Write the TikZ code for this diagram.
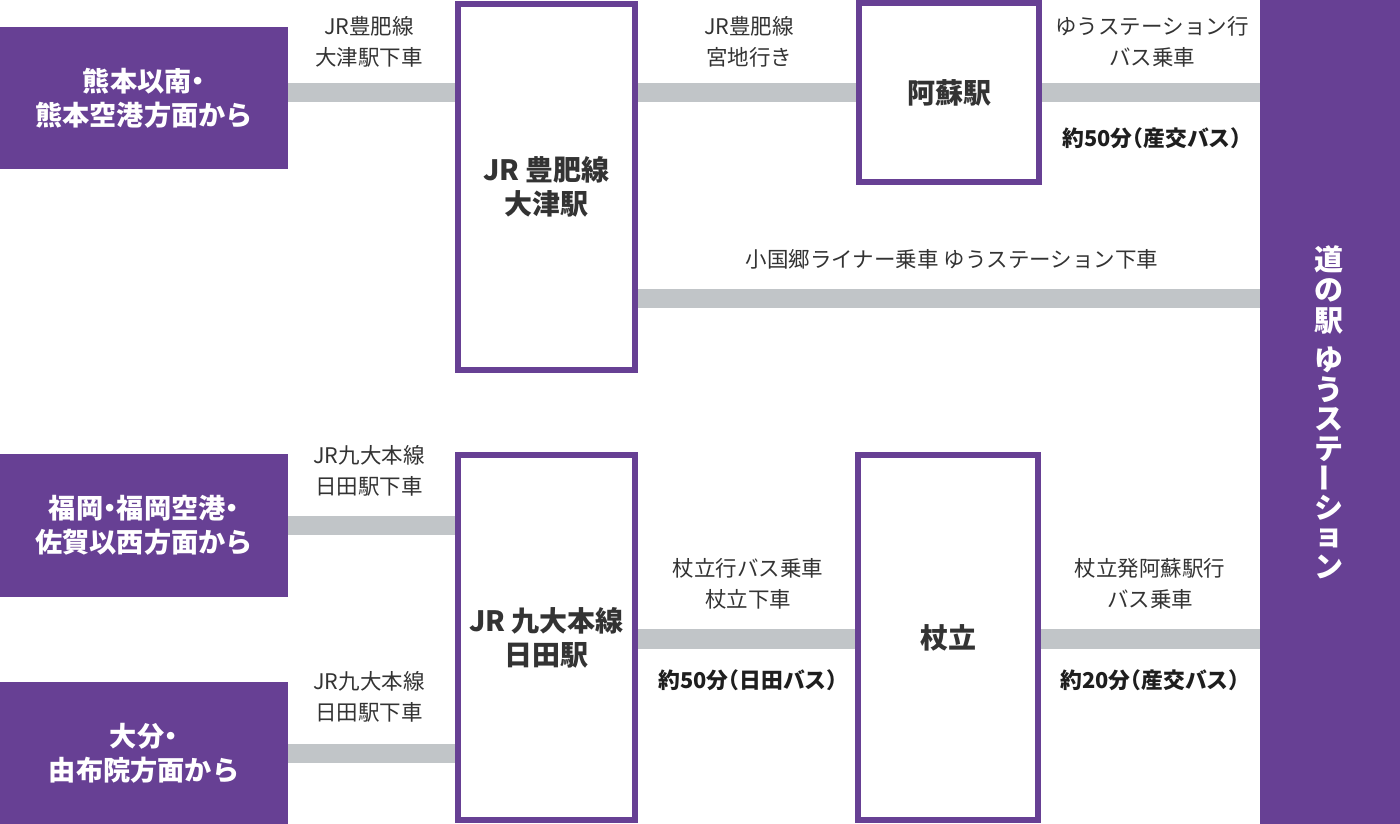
\documentclass[tikz,border=0pt]{standalone}
\usepackage{fontspec}
\setmainfont{Noto Sans CJK JP}
\definecolor{purp}{HTML}{674094}
\definecolor{barg}{HTML}{C1C5C8}
\definecolor{txt}{HTML}{333333}
\definecolor{dur}{HTML}{1E1E1E}
\newcommand{\ndot}{\kern-0.25em・\kern-0.25em}
\newcommand{\lpar}{\kern-0.5em（}
\newcommand{\rpar}{）\kern-0.5em}
\tikzset{
  origin/.style={fill=purp, text=white, inner sep=0pt, align=center,
    font=\bfseries\fontsize{27.2}{34}\selectfont},
  stationbox/.style={draw=purp, line width=6pt, fill=white, inner sep=0pt, align=center,
    text=txt, font=\bfseries\fontsize{28}{34}\selectfont},
  lbl/.style={inner sep=0pt, align=center, text=txt, font=\fontsize{21.5}{31}\selectfont},
  durlbl/.style={inner sep=0pt, align=center, text=dur, font=\bfseries\fontsize{21.8}{26}\selectfont},
  vt/.style={inner sep=0pt, text=white, font=\bfseries\fontsize{29}{30}\selectfont},
  bar/.style={draw=barg, line width=19.5pt, line cap=butt}
}
\begin{document}
\begin{tikzpicture}[x=1pt,y=-1pt]
\useasboundingbox (0,0) rectangle (1400,824);
% destination column
\node[fill=purp, inner sep=0pt, minimum width=140pt, minimum height=824pt, anchor=north west] (michi) at (1260,0) {};
% origin boxes
\node[origin, minimum width=288pt, minimum height=142pt] (kuma) at (144,98) {熊本以南\ndot\\熊本空港方面から};
\node[origin, minimum width=288pt, minimum height=143pt] (fuku) at (144,525.5) {福岡\ndot 福岡空港\ndot\\佐賀以西方面から};
\node[origin, minimum width=288pt, minimum height=142pt] (oita) at (144,753) {大分\ndot\\由布院方面から};
% stations
\node[stationbox, minimum width=177pt, minimum height=366pt] (otsu) at (546.5,187) {JR\kern0.2em 豊肥線\\大津駅};
\node[stationbox, minimum width=180pt, minimum height=179pt] (aso) at (949,92.5) {阿蘇駅};
\node[stationbox, minimum width=177pt, minimum height=365pt] (hita) at (546.5,637.5) {JR\kern0.2em 九大本線\\日田駅};
\node[stationbox, minimum width=180pt, minimum height=365pt] (tsue) at (948,637.5) {杖立};
% bars
\draw[bar] (kuma.east |- aso.west) -- (otsu.west |- aso.west);
\draw[bar] (otsu.east |- aso.west) -- (aso.west);
\draw[bar] (aso.east) -- (michi.west |- aso.east);
\draw[bar] ([yshift=-111.5pt]otsu.east) -- ([yshift=-111.5pt]otsu.east -| michi.west);
\draw[bar] (fuku.east) -- (fuku.east -| hita.west);
\draw[bar] ([yshift=-0.5pt]oita.east) -- ([yshift=-0.5pt]oita.east -| hita.west);
\draw[bar] ([yshift=-1.5pt]hita.east) -- ([yshift=-1.5pt]tsue.west);
\draw[bar] ([yshift=-1.5pt]tsue.east) -- ([yshift=-1.5pt]tsue.east -| michi.west);
% labels
\node[lbl] (l1) at (369,41.5) {JR豊肥線\\大津駅下車};
\node[lbl] (l2) at (749,41.5) {JR豊肥線\\宮地行き};
\node[lbl] (l3) at (1152,41.5) {ゆうステーション行\\バス乗車};
\node[durlbl] (d1) at (1152,138) {約50分\lpar 産交バス\rpar};
\node[lbl] (l4) at (952,259) {小国郷ライナー乗車 ゆうステーション下車};
\node[lbl] (l5) at (369,470.5) {JR九大本線\\日田駅下車};
\node[lbl] (l6) at (369,697) {JR九大本線\\日田駅下車};
\node[lbl] (l7) at (748,583.5) {杖立行バス乗車\\杖立下車};
\node[durlbl] (d2) at (748,680) {約50分\lpar 日田バス\rpar};
\node[lbl] (l8) at (1150,583.5) {杖立発阿蘇駅行\\バス乗車};
\node[durlbl] (d3) at (1150,680) {約20分\lpar 産交バス\rpar};
% vertical title
\foreach \c/\yy [count=\i] in {道/259,の/290,駅/321,ゆ/360,う/390,ス/419,テ/449,シ/508,ョ/538,ン/567}
  \node[vt] (v\i) at (1329,\yy) {\c};
\node[vt, rotate=90] (vbar) at (1329,478) {ー};
\end{tikzpicture}
\end{document}
